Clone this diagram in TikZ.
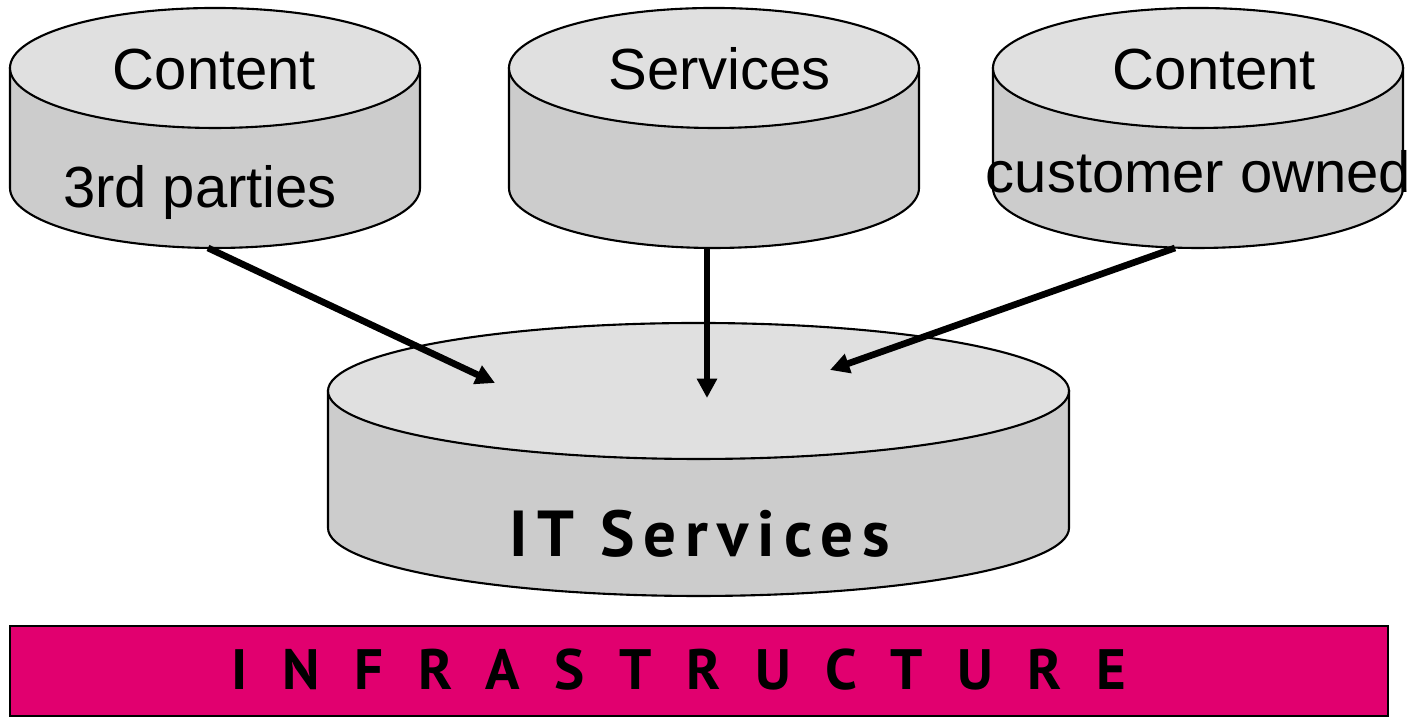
\documentclass[tikz,border=0pt]{standalone}
\usepackage{fontspec}
\setmainfont{Liberation Sans}
\newfontfamily\itfont[LetterSpace=14]{PT Sans}
\newfontfamily\infrafont[LetterSpace=61]{PT Sans}
\usetikzlibrary{arrows.meta}
\definecolor{disctop}{HTML}{E0E0E0}
\definecolor{discbody}{HTML}{CCCCCC}
\definecolor{infrapink}{HTML}{E1006F}

\begin{document}
\begin{tikzpicture}[
 disc/.style={draw=black, line width=0.6pt},
 lbl/.style={anchor=base, inner sep=0pt, font=\fontsize{16.5}{18}\selectfont},
 arr/.style={-{Triangle[length=5.5pt,width=5.5pt]}, line width=1.9pt},
]
\useasboundingbox (0,0) rectangle (14.17,7.17);
% top row of stores
\filldraw[disc, fill=discbody] (0.10,6.49) -- (0.10,5.29) arc[start angle=180, end angle=360, x radius=2.05, y radius=0.6] -- (4.20,6.49) -- cycle;
\filldraw[disc, fill=disctop] (2.15,6.49) ellipse [x radius=2.05, y radius=0.6];
\filldraw[disc, fill=discbody] (5.09,6.49) -- (5.09,5.29) arc[start angle=180, end angle=360, x radius=2.05, y radius=0.6] -- (9.19,6.49) -- cycle;
\filldraw[disc, fill=disctop] (7.14,6.49) ellipse [x radius=2.05, y radius=0.6];
\filldraw[disc, fill=discbody] (9.93,6.49) -- (9.93,5.29) arc[start angle=180, end angle=360, x radius=2.05, y radius=0.6] -- (14.03,6.49) -- cycle;
\filldraw[disc, fill=disctop] (11.98,6.49) ellipse [x radius=2.05, y radius=0.6];
\node[lbl] (content3rd) at (2.145,6.27) {Content};
\node[lbl] (parties) at (2.00,5.09) {3rd parties};
\node[lbl] (services) at (7.195,6.27) {Services};
\node[lbl] (contentcust) at (12.145,6.27) {Content};
\node[lbl] (customer) at (11.985,5.24) {customer owned};
% IT services store
\filldraw[disc, fill=discbody] (3.28,3.26) -- (3.28,1.89) arc[start angle=180, end angle=360, x radius=3.705, y radius=0.68] -- (10.69,3.26) -- cycle;
\filldraw[disc, fill=disctop] (6.985,3.26) ellipse [x radius=3.705, y radius=0.68];
\node[lbl, font=\itfont\bfseries\fontsize{18.5}{20}\selectfont] (itserv) at (7.00,1.60) {IT Services};
% infrastructure bar
\node[draw=black, line width=0.6pt, fill=infrapink, minimum width=13.78cm, minimum height=0.9cm, inner sep=0pt] (infra) at (6.99,0.46) {};
\node[lbl, font=\infrafont\bfseries\fontsize{16.2}{18}\selectfont] (infratext) at (6.79,0.27) {INFRASTRUCTURE};
% arrows into IT services
\coordinate (partiesout) at (2.08,4.69);
\coordinate (servicesout) at (7.07,4.69);
\coordinate (customerout) at (11.75,4.69);
\coordinate (itleft) at (4.95,3.34);
\coordinate (itmid) at (7.07,3.19);
\coordinate (itright) at (8.30,3.47);
\draw[arr] (partiesout) -- (itleft);
\draw[arr] (servicesout) -- (itmid);
\draw[arr] (customerout) -- (itright);
\end{tikzpicture}
\end{document}
